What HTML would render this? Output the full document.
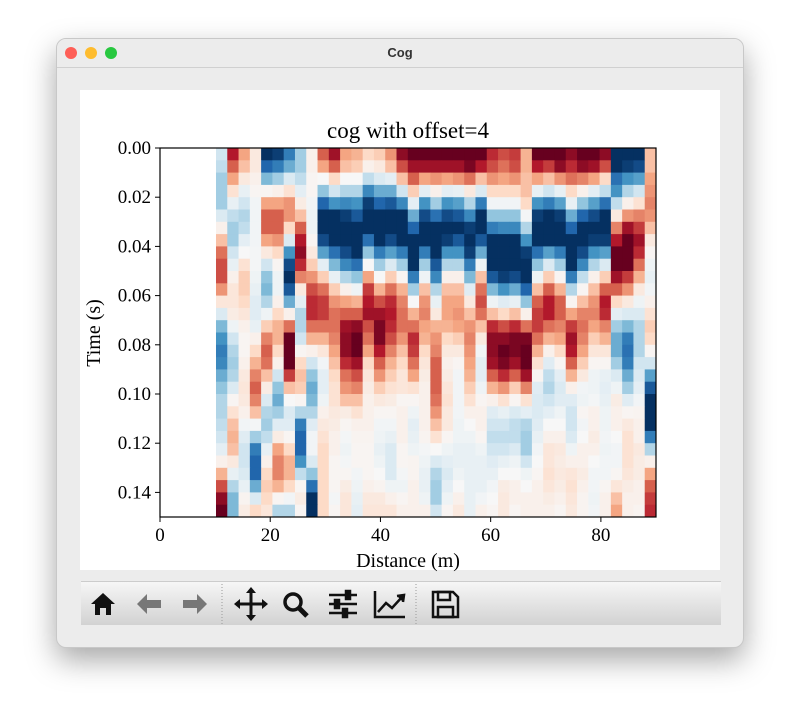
<!DOCTYPE html>
<html><head><meta charset="utf-8"><style>
body{margin:0;width:800px;height:722px;background:#fff;position:relative;overflow:hidden;font-family:"Liberation Sans",sans-serif}
#win{position:absolute;left:56px;top:38px;width:688px;height:610px;background:#ececec;border-radius:10px;box-shadow:0 12px 30px rgba(0,0,0,0.35);border:1px solid #c8c8c8;box-sizing:border-box;overflow:hidden}
#titlebar{position:absolute;left:0;top:0;width:100%;height:28px;background:#ececec;border-bottom:1px solid #d0d0d0;text-align:center;font-size:13px;font-weight:bold;line-height:28px;color:#333}
.dot{position:absolute;top:8px;width:12px;height:12px;border-radius:6px}
#toolbar{position:absolute;left:24px;top:542px;width:640px;height:43px;background:linear-gradient(#f6f6f6,#d2d2d2);border-top:1px solid #ccc}
</style></head><body>
<div id="win">
 <div id="titlebar">Cog
  <div class="dot" style="left:8px;background:#fe5f57"></div>
  <div class="dot" style="left:28px;background:#febc2e"></div>
  <div class="dot" style="left:48px;background:#28c840"></div>
 </div>
 <div id="toolbar">
  <svg width="640" height="43">
   <g><path d="M10 22 L22 11 L34 22 L30 22 L30 33 L25 33 L25 26 L19 26 L19 33 L14 33 L14 22 Z" fill="#111"/></g>
   <g><path d="M56 22 L66 12 L66 18 L80 18 L80 26 L66 26 L66 32 Z" fill="#777"/></g>
   <g><path d="M126 22 L116 12 L116 18 L102 18 L102 26 L116 26 L116 32 Z" fill="#777"/></g>
   <line x1="141" y1="2" x2="141" y2="42" stroke="#999" stroke-dasharray="1,2"/>
   <g stroke="#111" stroke-width="3" fill="#111"><line x1="155" y1="22" x2="185" y2="22"/><line x1="170" y1="7" x2="170" y2="37"/><path d="M170 5 L165 11 L175 11Z M170 39 L165 33 L175 33Z M153 22 L159 17 L159 27Z M187 22 L181 17 L181 27Z" stroke="none"/></g>
   <g><circle cx="212" cy="20" r="8" fill="none" stroke="#111" stroke-width="3.5"/><line x1="218" y1="26" x2="226" y2="34" stroke="#111" stroke-width="5"/></g>
   <g stroke="#111" stroke-width="2.5"><line x1="248" y1="13" x2="276" y2="13"/><line x1="248" y1="22" x2="276" y2="22"/><line x1="248" y1="31" x2="276" y2="31"/><rect x="265" y="9" width="4" height="8" fill="#111"/><rect x="254" y="18" width="4" height="8" fill="#111"/><rect x="262" y="27" width="4" height="8" fill="#111"/></g>
   <g fill="none" stroke="#111" stroke-width="2.5"><path d="M294 9 L294 35 L324 35"/><path d="M297 30 L305 21 L311 26 L321 15"/><path d="M316 14 L323 13 L322 20" fill="#111"/></g>
   <line x1="335" y1="2" x2="335" y2="42" stroke="#999" stroke-dasharray="1,2"/>
   <g fill="none" stroke="#111" stroke-width="2.5"><path d="M352 10 L372 10 L377 15 L377 35 L352 35 Z"/><rect x="357" y="10" width="12" height="8"/><rect x="357" y="25" width="15" height="10"/></g>
  </svg>
 </div>
</div>
<svg id="fig" style="position:absolute;left:0;top:0" width="800" height="722">
 <rect x="80" y="90" width="640" height="480" fill="#fff"/>
 <g id="cells"></g>
 <g id="axes"></g>
</svg>
<script>
const timeTicks=[0.00,0.02,0.04,0.06,0.08,0.10,0.12,0.14];
const timeTickLabels=["0.00","0.02","0.04","0.06","0.08","0.10","0.12","0.14"];
const distTicks=[0,20,40,60,80];
const distTickLabels=["0","20","40","60","80"];
const distStart=10.16, distEnd=90, timeStart=0, timeEnd=0.15;
const values=[
[-0.2,0.8,0.4,0.1,-1,-0.95,-0.7,-0.35,0.05,0.6,0.85,0.4,0.35,0.2,0.25,0.45,0.9,1,1,1,1,1,1,1,0.75,0.65,0.7,0.35,1,1,1,0.9,1,1,0.9,-1,-1,-1,0.3],
[-0.25,0.6,0.3,0.1,-0.8,-0.7,-0.5,-0.35,0.05,0.4,0.6,0.3,0.25,0.05,0.1,0.3,0.65,0.85,0.85,0.85,0.85,0.85,0.95,0.8,0.65,0.55,0.65,0.35,0.8,0.7,0.9,0.75,0.9,0.85,0.65,-1,-0.95,-0.9,0.3],
[-0.35,0.4,0.1,0.05,-0.45,-0.35,-0.15,-0.25,0.02,0,0.2,0,0,-0.25,-0.15,-0.1,0.3,0.6,0.4,0.45,0.4,0.45,0.55,0.3,0.45,0.4,0.45,0.3,0.4,0.3,0.45,0.55,0.5,0.4,0.2,-0.75,-0.6,-0.55,0.4],
[-0.35,0.15,-0.08,0.02,0.02,0.05,0.15,-0.1,0.02,-0.4,-0.2,-0.3,-0.3,-0.65,-0.5,-0.5,-0.2,0.25,-0.1,0.05,-0.1,-0.08,0.1,-0.15,0.2,0.2,0.2,0.3,-0.08,-0.2,-0.08,0.2,0.05,-0.1,-0.25,-0.6,-0.3,-0.2,0.45],
[-0.35,-0.08,-0.2,-0.03,0.4,0.4,0.45,0.08,-0.03,-0.8,-0.6,-0.65,-0.6,-0.95,-0.8,-0.85,-0.65,-0.1,-0.6,-0.35,-0.6,-0.55,-0.3,-0.7,-0.03,-0.03,-0.03,0.2,-0.6,-0.7,-0.55,-0.08,-0.4,-0.55,-0.75,-0.25,0.05,0.15,0.5],
[-0.15,-0.25,-0.3,-0.03,0.6,0.6,0.45,0.3,-0.05,-1,-1,-0.95,-0.85,-1,-1,-1,-1,-0.5,-0.9,-0.75,-0.9,-0.85,-0.65,-1,-0.4,-0.4,-0.4,-0.02,-0.95,-1,-0.95,-0.5,-0.8,-0.9,-1,0.1,0.45,0.5,0.45],
[0.05,-0.35,-0.25,-0.03,0.6,0.6,0.2,0.6,-0.05,-1,-1,-1,-1,-1,-1,-1,-1,-0.8,-1,-1,-1,-1,-0.95,-1,-0.7,-0.65,-0.65,-0.3,-1,-1,-1,-0.8,-1,-1,-1,0.5,0.85,0.7,0.3],
[0.3,-0.35,-0.1,-0.03,0.4,0.45,-0.15,0.8,0.02,-0.9,-1,-1,-1,-0.75,-1,-0.9,-1,-1,-1,-1,-0.95,-0.85,-1,-0.85,-1,-1,-1,-0.6,-1,-1,-1,-1,-1,-0.95,-0.95,0.8,1,0.85,0.1],
[0.55,-0.2,0,-0.02,0.1,0.2,-0.6,0.9,0.1,-0.55,-0.75,-0.9,-1,-0.4,-0.7,-0.55,-0.7,-1,-0.7,-1,-0.6,-0.6,-0.95,-0.5,-1,-1,-1,-0.95,-0.75,-0.55,-0.7,-1,-0.9,-0.6,-0.55,1,1,0.75,0.02],
[0.65,-0.08,0.15,-0.02,-0.2,0.02,-0.9,0.75,0.25,-0.1,-0.45,-0.65,-0.75,0,-0.35,-0.15,-0.35,-1,-0.35,-0.85,-0.3,-0.3,-0.7,-0.05,-1,-1,-1,-1,-0.4,-0.15,-0.35,-1,-0.65,-0.3,-0.15,1,1,0.55,-0.05],
[0.65,0.05,0.25,-0.05,-0.4,-0.05,-1,0.5,0.45,0.25,-0.08,-0.3,-0.4,0.4,0,0.25,0.02,-0.7,-0.05,-0.65,0.05,0.05,-0.45,0.3,-0.85,-0.95,-0.9,-1,-0.05,0.25,0.02,-0.7,-0.25,0.05,0.25,0.85,0.7,0.35,-0.08],
[0.45,0.12,0.25,-0.08,-0.45,-0.05,-0.85,0.1,0.65,0.55,0.25,0.05,-0.05,0.7,0.35,0.55,0.35,-0.35,0.3,-0.3,0.3,0.3,-0.12,0.55,-0.45,-0.6,-0.5,-0.8,0.3,0.6,0.35,-0.3,0.02,0.3,0.6,0.6,0.45,0.1,-0.03],
[0.12,0.12,0.2,-0.12,-0.3,0.05,-0.5,-0.1,0.75,0.7,0.45,0.4,0.35,0.8,0.65,0.75,0.5,0,0.45,-0.08,0.4,0.4,0.1,0.65,-0.05,-0.12,-0.08,-0.4,0.6,0.8,0.6,0.03,0.3,0.45,0.8,0.2,0.1,-0.05,0.05],
[-0.15,0.08,0.12,-0.12,-0.05,0.2,0.05,-0.3,0.75,0.7,0.55,0.6,0.6,0.85,0.85,0.8,0.55,0.35,0.5,0.1,0.4,0.45,0.3,0.55,0.3,0.2,0.3,0.05,0.7,0.8,0.6,0.4,0.5,0.5,0.75,-0.1,-0.15,-0.15,0.15],
[-0.45,-0.05,0.05,-0.08,0.25,0.35,0.55,-0.3,0.55,0.55,0.55,0.85,0.9,0.65,0.95,0.75,0.55,0.55,0.4,0.35,0.35,0.4,0.45,0.3,0.75,0.65,0.75,0.55,0.7,0.55,0.5,0.7,0.55,0.4,0.5,-0.35,-0.45,-0.3,0.25],
[-0.6,-0.2,0.02,0.05,0.5,0.35,1,-0.2,0.35,0.35,0.5,0.9,1,0.55,0.95,0.65,0.45,0.75,0.35,0.45,0.2,0.25,0.5,0.1,0.9,0.9,0.95,0.95,0.55,0.35,0.4,0.85,0.5,0.25,0.35,-0.5,-0.7,-0.3,0.2],
[-0.7,-0.3,0.02,0.2,0.6,0.2,1,0.02,0.05,0.12,0.4,0.9,1,0.4,0.8,0.5,0.3,0.7,0.2,0.5,0.1,0.1,0.45,-0.03,0.9,1,0.95,1,0.35,0.05,0.2,0.8,0.4,0.12,0.12,-0.5,-0.75,-0.3,0.02],
[-0.65,-0.35,0.05,0.35,0.55,0.05,1,0.2,-0.2,-0.03,0.3,0.75,0.85,0.2,0.6,0.35,0.2,0.55,0.12,0.6,0.05,0.02,0.4,-0.1,0.85,0.95,0.85,1,0.15,-0.12,0.02,0.6,0.25,0.02,0.02,-0.35,-0.7,-0.2,-0.2],
[-0.5,-0.3,0.1,0.5,0.3,-0.2,0.7,0.3,-0.4,-0.1,0.2,0.55,0.65,0.12,0.45,0.25,0.12,0.4,0.08,0.6,0.08,-0.03,0.35,-0.1,0.6,0.75,0.6,0.85,0.02,-0.25,-0.1,0.35,0.1,-0.05,-0.08,-0.15,-0.5,-0.15,-0.55],
[-0.4,-0.15,0.12,0.6,0.08,-0.4,0.3,0.25,-0.5,-0.1,0.15,0.45,0.5,0.08,0.25,0.15,0.12,0.15,0.05,0.6,0.12,-0.03,0.25,-0.05,0.35,0.45,0.25,0.5,-0.12,-0.3,-0.15,0.05,-0.03,-0.05,-0.1,-0.05,-0.35,-0.1,-0.85],
[-0.3,0.02,0.1,0.5,-0.15,-0.5,0,0.02,-0.45,-0.05,0.15,0.3,0.3,0.05,0.1,0.08,0.02,0.02,0.05,0.55,0.15,-0.03,0.15,0.02,0.05,0.15,0.02,0.15,-0.15,-0.2,-0.12,-0.12,-0.05,-0.02,-0.08,0.08,-0.12,-0.03,-1],
[-0.3,0.15,0.05,0.3,-0.3,-0.35,-0.15,-0.3,-0.3,0.05,0.1,0.08,0.15,0.05,0.02,0.02,0.05,-0.05,0.05,0.45,0.1,-0.03,0.05,0.05,-0.12,-0.08,-0.15,-0.1,-0.15,-0.1,-0.05,-0.2,0.02,0.05,-0.05,0.05,0.02,0.03,-1],
[-0.25,0.3,-0.03,-0.02,-0.35,-0.12,-0.12,-0.7,-0.12,0.1,0.08,0.02,0.05,0.05,-0.03,-0.03,0.05,-0.1,0.05,0.3,0.1,-0.05,0,0.05,-0.2,-0.2,-0.25,-0.3,-0.12,0,0,-0.2,-0.03,0.05,-0.05,0.05,0.1,0.05,-1],
[-0.2,0.35,-0.12,-0.35,-0.25,0.08,0.02,-0.8,-0.03,0.15,0.05,-0.02,0.03,0.03,-0.05,-0.08,0.05,-0.08,0.03,0.15,0.02,-0.05,-0.05,0.02,-0.25,-0.25,-0.25,-0.35,-0.08,0.05,0.05,-0.15,0,0.08,-0.03,0,0.15,0.05,-0.7],
[-0.1,0.3,-0.2,-0.7,-0.08,0.4,0.2,-0.8,-0.03,0.2,0.05,-0.05,0.02,0.02,-0.08,-0.15,0.02,-0.05,-0.02,0,-0.05,-0.08,-0.08,-0.05,-0.2,-0.2,-0.15,-0.35,-0.03,0.12,0.1,-0.05,0.05,0.05,-0.05,-0.03,0.15,0.1,-0.3],
[0.05,0.1,-0.2,-0.8,0.05,0.5,0.35,-0.6,-0.15,0.2,0.02,-0.02,0.02,0.02,-0.05,-0.15,0.02,0.03,-0.05,-0.15,-0.1,-0.08,-0.08,-0.08,-0.12,-0.08,-0.05,-0.2,0,0.12,0.08,0.05,0.05,0,-0.03,-0.03,0.15,0.08,0.05],
[0.35,-0.08,-0.15,-0.8,0.2,0.5,0.35,-0.25,-0.4,0.2,0.02,0.02,-0.03,0.02,0,-0.15,-0.02,0.03,-0.08,-0.3,-0.15,-0.05,-0.08,-0.08,-0.08,0,0,-0.05,0.02,0.15,0.1,0.12,0.08,-0.03,-0.03,0.02,0.12,0.08,0.4],
[0.65,-0.3,-0.08,-0.5,0.25,0.35,0.2,0.02,-0.75,0.2,0.02,0.08,-0.05,0.05,0.03,-0.05,-0.05,0.05,-0.08,-0.35,-0.1,0,-0.08,-0.08,-0.03,0.08,0.05,0,0.05,0.12,0.08,0.15,0.05,-0.03,0.02,0.12,0.08,0.05,0.6],
[0.9,-0.45,0.03,-0.15,0.2,0.02,-0.03,0.08,-1,0.2,-0.02,0.12,-0.08,0.1,0.1,0.05,0.02,0.05,-0.05,-0.35,-0.05,0.05,-0.08,-0.03,0,0.1,0.05,0.05,0.05,0.08,0.05,0.12,0.03,-0.05,0.05,0.3,0.05,0.05,0.7],
[1,-0.45,0.08,0.2,0.12,-0.3,-0.3,0.02,-1,0.2,0.02,0.12,-0.1,0.12,0.12,0.12,0.05,0.05,0.05,-0.2,0.02,0.1,-0.08,0.05,0.02,0.1,0.02,0.05,0.05,0.05,0.02,0.1,0.03,-0.03,0.05,0.4,0.05,0.03,0.75]
];
const AX={l:160,r:656,t:148,b:517};
const xMin=0,xMax=90;
function xScale(d){return AX.l+(d-xMin)/(xMax-xMin)*(AX.r-AX.l);}
function yScale(t){return AX.t+(t-timeStart)/(timeEnd-timeStart)*(AX.b-AX.t);}
const cmapStops=["#053061","#2166ac","#4393c3","#92c5de","#d1e5f0","#f7f7f7","#fddbc7","#f4a582","#d6604d","#b2182b","#67001f"];
function hex(h){return [parseInt(h.slice(1,3),16),parseInt(h.slice(3,5),16),parseInt(h.slice(5,7),16)];}
function color(v){v=Math.max(-1,Math.min(1,v));const p=(v+1)/2*10;const i=Math.min(9,Math.floor(p));const f=p-i;const a=hex(cmapStops[i]),b=hex(cmapStops[i+1]);
return "rgb("+a.map((c,k)=>Math.round(c+(b[k]-c)*f)).join(",")+")";}
const NS="http://www.w3.org/2000/svg";
const cells=document.getElementById('cells');
const nR=values.length,nC=values[0].length;
const dDist=(distEnd-distStart)/nC,dTime=(timeEnd-timeStart)/nR;
for(let r=0;r<nR;r++)for(let c=0;c<nC;c++){
 const x0=xScale(distStart+c*dDist),x1=xScale(distStart+(c+1)*dDist);
 const y0=yScale(timeStart+r*dTime),y1=yScale(timeStart+(r+1)*dTime);
 const el=document.createElementNS(NS,'rect');
 el.setAttribute('x',x0);el.setAttribute('y',y0);
 el.setAttribute('width',x1-x0+0.4);el.setAttribute('height',y1-y0+0.4);
 el.setAttribute('fill',color(values[r][c]));
 
 
 cells.appendChild(el);
}
const axes=document.getElementById('axes');
function mk(tag,attrs,txt){const e=document.createElementNS(NS,tag);for(const k in attrs)e.setAttribute(k,attrs[k]);if(txt!==undefined)e.textContent=txt;axes.appendChild(e);return e;}
const serif='"Liberation Serif",serif';
let fr=mk('rect',{x:AX.l,y:AX.t,width:AX.r-AX.l,height:AX.b-AX.t,fill:'none',stroke:'#000','stroke-width':1.2});


distTicks.forEach((d,i)=>{const x=xScale(d);
 let t=mk('line',{x1:x,y1:AX.b,x2:x,y2:AX.b+5,stroke:'#000'});
 
 
 let l=mk('text',{x:x,y:AX.b+24,'font-size':19,'font-family':serif,'text-anchor':'middle'},distTickLabels[i]);
 
 
});
timeTicks.forEach((tv,i)=>{const y=yScale(tv);
 let t=mk('line',{x1:AX.l-5,y1:y,x2:AX.l,y2:y,stroke:'#000'});
 
 
 let l=mk('text',{x:AX.l-9,y:y+6,'font-size':19,'font-family':serif,'text-anchor':'end'},timeTickLabels[i]);
 
 
});
let ti=mk('text',{x:(AX.l+AX.r)/2,y:138,'font-size':23,'font-family':serif,'text-anchor':'middle'},'cog with offset=4');


let xl=mk('text',{x:(AX.l+AX.r)/2,y:567,'font-size':20,'font-family':serif,'text-anchor':'middle'},'Distance (m)');


let yl=mk('text',{x:0,y:0,'font-size':20,'font-family':serif,'text-anchor':'middle',transform:'translate(100,333) rotate(-90)'},'Time (s)');


</script>
</body></html>
